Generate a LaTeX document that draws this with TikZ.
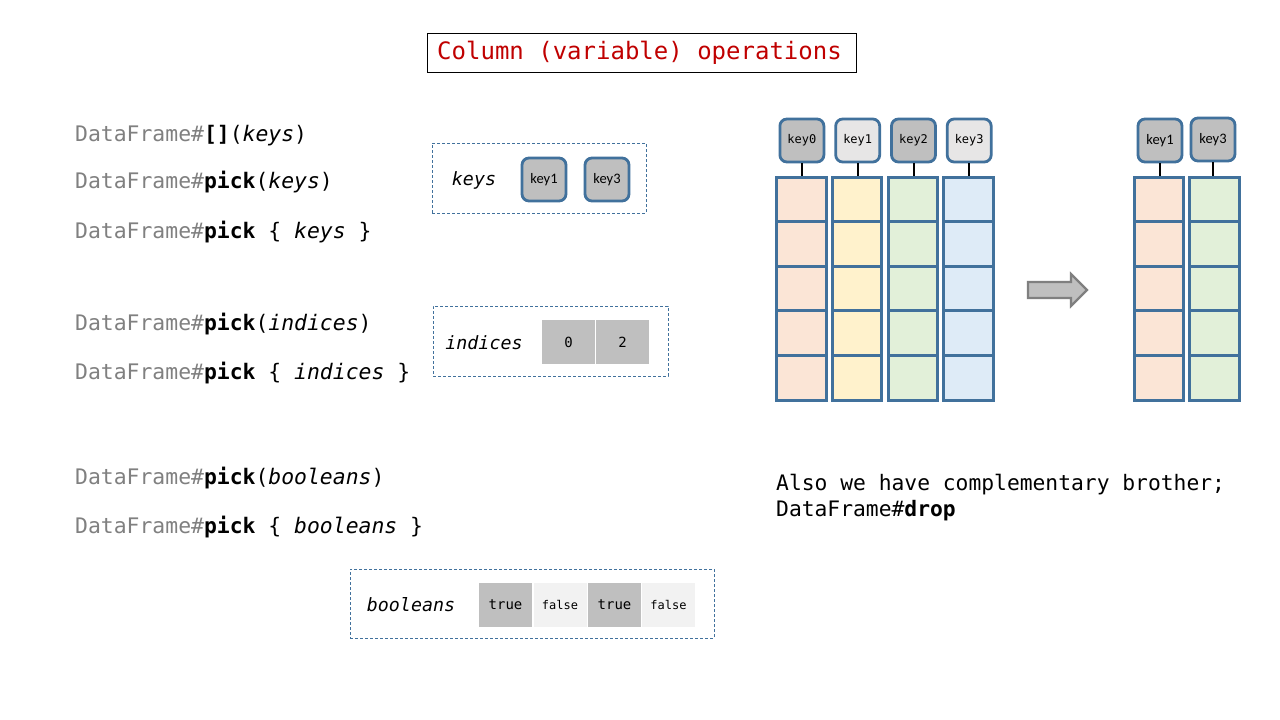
\documentclass[tikz,border=0pt]{standalone}
\usepackage{fontspec}
\setmonofont{DejaVu Sans Mono}
\setsansfont{Carlito}
\definecolor{titlered}{HTML}{C00000}
\definecolor{codegray}{HTML}{808080}
\definecolor{bord}{HTML}{41719C}
\definecolor{gdark}{HTML}{BFBFBF}
\definecolor{glight}{HTML}{E7E6E6}
\definecolor{gpale}{HTML}{F2F2F2}
\definecolor{cola}{HTML}{FBE5D6}
\definecolor{colb}{HTML}{FFF2CC}
\definecolor{colc}{HTML}{E2F0D9}
\definecolor{cold}{HTML}{DEEBF7}
\definecolor{arrgray}{HTML}{7F7F7F}
\tikzset{
  codeline/.style={anchor=base west, inner sep=0pt, font=\ttfamily\fontsize{21.4}{24}\selectfont},
  dbox/.style={draw=bord, line width=0.8pt, dash pattern=on 3pt off 2pt, inner sep=0pt},
  keybox/.style={draw=bord, line width=2.8pt, rounded corners=7pt, minimum width=44pt, minimum height=43pt, inner sep=0pt, fill=gdark},
  colcell/.style={draw=bord, line width=3pt, minimum width=49.5pt, minimum height=44.6pt, inner sep=0pt},
  valcell/.style={minimum width=53pt, minimum height=44pt, inner sep=0pt, font=\ttfamily\fontsize{14}{16}\selectfont},
  boxlabel/.style={inner sep=0pt, font=\ttfamily\itshape\fontsize{18.3}{20}\selectfont},
  link/.style={line width=2pt, black}
}
\begin{document}
\begin{tikzpicture}[x=1pt,y=-1pt]
\useasboundingbox (0,0) rectangle (1280,720);
\fill[white] (0,0) rectangle (1280,720);

% title
\node[draw=black, line width=0.8pt, minimum width=429pt, minimum height=39pt, inner sep=0pt,
  text=titlered, font=\ttfamily\fontsize{24}{26}\selectfont] (title) at (641.5,52.5) {Column (variable) operations\hspace*{4pt}};

% code lines
\node[codeline] (l1) at (75,141) {{\color{codegray}DataFrame\#}\textbf{[]}(\textit{keys})};
\node[codeline] (l2) at (75,188) {{\color{codegray}DataFrame\#}\textbf{pick}(\textit{keys})};
\node[codeline] (l3) at (75,238) {{\color{codegray}DataFrame\#}\textbf{pick} \{ \textit{keys} \}};
\node[codeline] (l4) at (75,330) {{\color{codegray}DataFrame\#}\textbf{pick}(\textit{indices})};
\node[codeline] (l5) at (75,379) {{\color{codegray}DataFrame\#}\textbf{pick} \{ \textit{indices} \}};
\node[codeline] (l6) at (75,484) {{\color{codegray}DataFrame\#}\textbf{pick}(\textit{booleans})};
\node[codeline] (l7) at (75,533) {{\color{codegray}DataFrame\#}\textbf{pick} \{ \textit{booleans} \}};

% keys box
\node[dbox, minimum width=214pt, minimum height=70pt] (keysbox) at (539,178) {};
\node[boxlabel] (keyslbl) at (474,180) {keys};
\node[keybox, font=\sffamily\fontsize{14.5}{16}\selectfont] (kk1) at (544,179.5) {key1};
\node[keybox, font=\sffamily\fontsize{14.5}{16}\selectfont] (kk3) at (607,179.5) {key3};

% indices box
\node[dbox, minimum width=235pt, minimum height=70pt] (idxbox) at (550.5,341) {};
\node[boxlabel] (idxlbl) at (484,343) {indices};
\node[valcell, fill=gdark] (i0) at (568.5,342) {0};
\node[valcell, fill=gdark] (i2) at (622.5,342) {2};

% booleans box
\node[dbox, minimum width=364pt, minimum height=69pt] (boolbox) at (532,603.5) {};
\node[boxlabel] (boollbl) at (411,605) {booleans};
\node[valcell, fill=gdark] (b1) at (505.5,604.5) {true};
\node[valcell, fill=gpale, font=\ttfamily\fontsize{12}{14}\selectfont] (b2) at (560,604.5) {false};
\node[valcell, fill=gdark] (b3) at (614.5,604.5) {true};
\node[valcell, fill=gpale, font=\ttfamily\fontsize{12}{14}\selectfont] (b4) at (668.5,604.5) {false};

% source columns
\foreach \c/\x/\col/\kf in {0/801.4/cola/gdark, 1/857.2/colb/glight, 2/913/colc/gdark, 3/968.7/cold/glight}{
  \node[keybox, fill=\kf, font=\ttfamily\fontsize{12}{14}\selectfont] (k\c) at (\x+0.5,140.5) {key\c};
  \foreach \r/\y in {1/199.3, 2/243.9, 3/288.5, 4/333.1, 5/377.7}{
    \node[colcell, fill=\col] (c\c r\r) at (\x,\y) {};
  }
  \draw[link] (k\c.south) -- (k\c.south |- c\c r1.north);
}

% arrow
\draw[draw=arrgray, fill=gdark, line width=2.2pt, line join=miter]
  (1028,282) -- (1071,282) -- (1071,274) -- (1087,290) -- (1071,306) -- (1071,298) -- (1028,298) -- cycle;

% result columns
\node[keybox, font=\sffamily\fontsize{14.5}{16}\selectfont] (rk1) at (1160,140.5) {key1};
\node[keybox, font=\sffamily\fontsize{14.5}{16}\selectfont] (rk3) at (1213,139.5) {key3};
\foreach \r/\y in {1/199.3, 2/243.9, 3/288.5, 4/333.1, 5/377.7}{
  \node[colcell, fill=cola, minimum width=48.7pt] (ra\r) at (1158.9,\y) {};
  \node[colcell, fill=colc, minimum width=49.7pt] (rb\r) at (1214.3,\y) {};
}
\draw[link] (rk1.south) -- (rk1.south |- ra1.north);
\draw[link] (rk3.south) -- (rk3.south |- rb1.north);

% note
\node[anchor=base west, inner sep=0pt, align=left, font=\ttfamily\fontsize{21.3}{26}\selectfont] (note) at (776,516)
  {Also we have complementary brother;\\DataFrame\#\textbf{drop}};
\end{tikzpicture}
\end{document}
